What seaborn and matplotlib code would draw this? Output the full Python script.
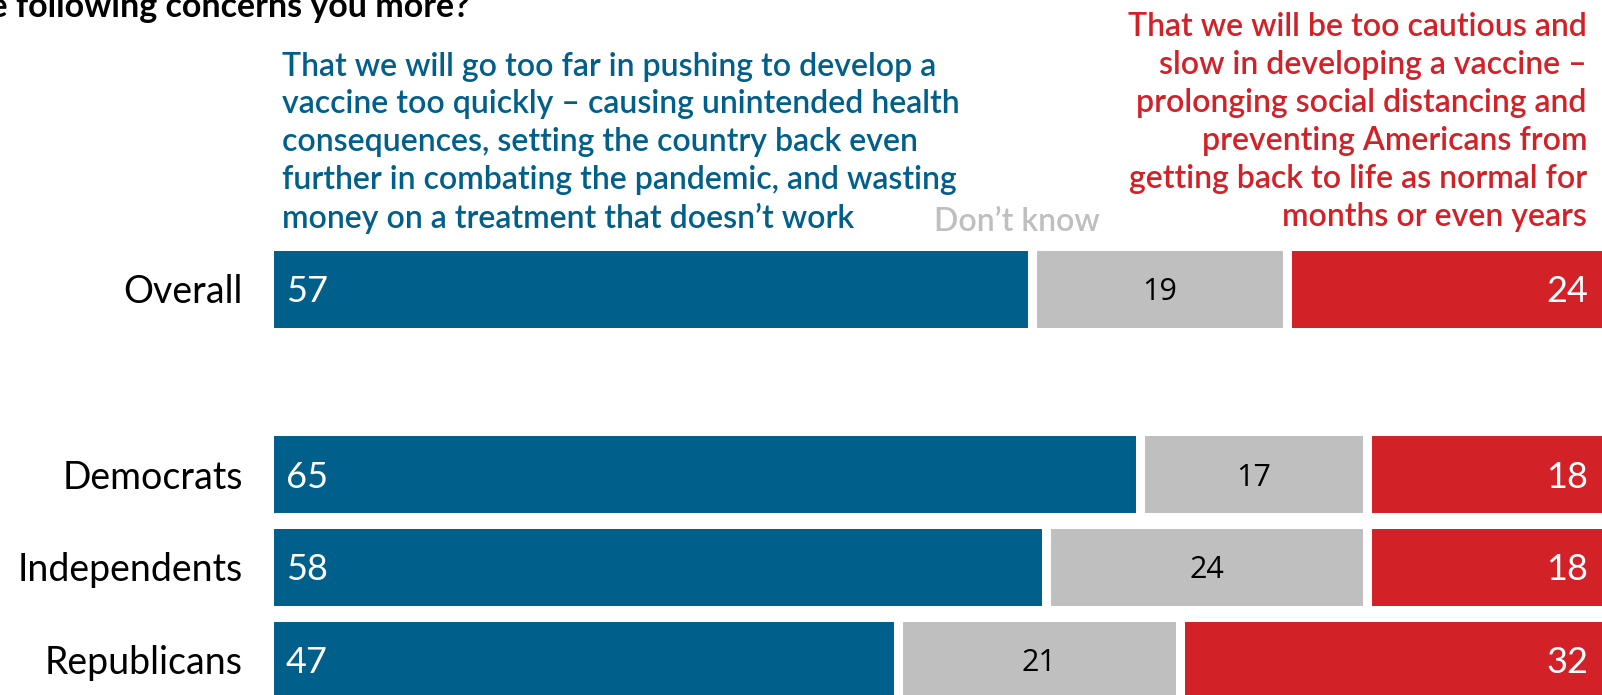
import matplotlib
matplotlib.use("Agg")
import matplotlib.pyplot as plt
import numpy as np
import pandas as pd
import seaborn as sns

# survey shares, percent
groups = ["Overall", "Democrats", "Independents", "Republicans"]
too_fast = [57, 65, 58, 47]
dont_know = [19, 17, 24, 21]
too_slow = [24, 18, 18, 32]
# blank slot puts the gap between Overall and the party rows
row_order = ["Overall", " ", "Democrats", "Independents", "Republicans"]

title = "Which of the following concerns you more?"
fast_label = ("That we will go too far in pushing to develop a\n"
              "vaccine too quickly \u2013 causing unintended health\n"
              "consequences, setting the country back even\n"
              "further in combating the pandemic, and wasting\n"
              "money on a treatment that doesn\u2019t work")
dk_label = "Don\u2019t know"
slow_label = ("That we will be too cautious and\n"
              "slow in developing a vaccine \u2013\n"
              "prolonging social distancing and\n"
              "preventing Americans from\n"
              "getting back to life as normal for\n"
              "months or even years")

BLUE = "#015f8b"
GREY = "#bfbfbf"
RED = "#d32128"
W, H = 1602, 695

df = pd.DataFrame({"group": groups, "fast": too_fast,
                   "dk": dont_know, "slow": too_slow})
df["fast_dk"] = df["fast"] + df["dk"]
df["total"] = df["fast_dk"] + df["slow"]

sns.set_theme(style="white")
plt.rcParams["font.family"] = ["Lato", "DejaVu Sans"]

fig = plt.figure(figsize=(W / 100, H / 100), dpi=100)
ax = fig.add_axes([268.5 / W, 0, 1340 / W, 1])

bar_kw = dict(y="group", order=row_order, orient="h", width=0.927,
              saturation=1, errorbar=None, edgecolor="white",
              linewidth=6.5, ax=ax)
# stacked by overdrawing cumulative totals
sns.barplot(data=df, x="total", color=RED, **bar_kw)
sns.barplot(data=df, x="fast_dk", color=GREY, **bar_kw)
sns.barplot(data=df, x="fast", color=BLUE, **bar_kw)

ax.set_xlim(0, 100)
ax.set_ylim(4.380, -3.109)
ax.set_xlabel("")
ax.set_ylabel("")
ax.set_xticks([])
ax.tick_params(axis="y", length=0, pad=18.4, labelsize=27, labelcolor="black")
sns.despine(ax=ax, left=True, bottom=True)

for _, r in df.iterrows():
    y = row_order.index(r["group"])
    ax.text(1.3, y, f"{r['fast']}", color="white", fontsize=26,
            ha="left", va="center_baseline")
    ax.text(r["fast"] + r["dk"] / 2, y, f"{r['dk']}", color="black",
            fontsize=22, family="Open Sans", ha="center", va="center_baseline")
    ax.text(98.5, y, f"{r['slow']}", color="white", fontsize=26,
            ha="right", va="center_baseline")

def fx(px):
    return px / W

def fy(py):
    return 1 - py / H

# title sits mostly above the canvas, only its lower part shows
fig.text(fx(470), fy(17), title, ha="right", va="baseline",
         fontsize=24.5, fontweight="bold", color="black")
fig.text(fx(282), fy(228), fast_label, ha="left", va="baseline",
         fontsize=23, fontweight="semibold", color=BLUE, linespacing=1.32)
fig.text(fx(1017), fy(219), dk_label, ha="center", va="center_baseline",
         fontsize=23, fontweight="semibold", color=GREY)
fig.text(fx(1587), fy(226), slow_label, ha="right", va="baseline",
         fontsize=23, fontweight="semibold", color=RED, linespacing=1.335,
         multialignment="right")

fig.savefig("out.png", dpi=100, facecolor="white")
